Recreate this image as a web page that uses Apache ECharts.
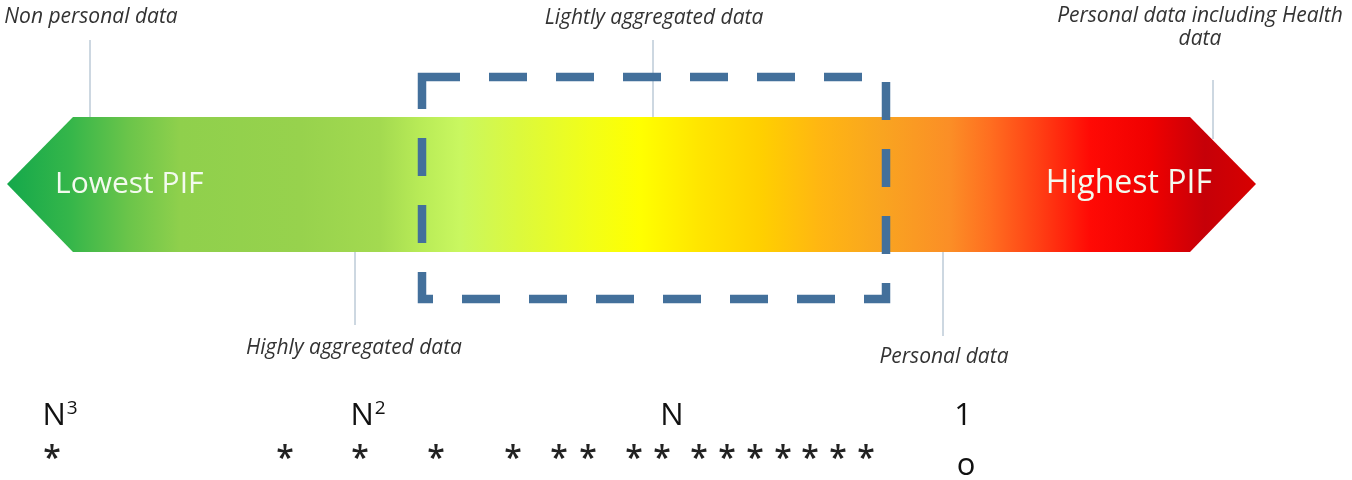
<!DOCTYPE html>
<html>
<head>
<meta charset="utf-8">
<script src="https://cdn.jsdelivr.net/npm/echarts@6/dist/echarts.min.js"></script>
<style>
html,body{margin:0;padding:0;background:#fff;}
#chart{width:1352px;height:480px;}
</style>
</head>
<body>
<div id="chart"></div>
<script>
// ---- data ----
const scaleLabels = ['Non personal data', 'Highly aggregated data', 'Lightly aggregated data', 'Personal data', 'Personal data including Health\ndata'];
const scaleTickX = [90, 355, 653, 943, 1213];
const scaleLabelX = [91, 354, 654, 944, 1200];
const scaleSide = ['top', 'bottom', 'top', 'bottom', 'top'];
const arrowLabels = ['Lowest PIF', 'Highest PIF'];
const focusRange = [422, 886];
const magnitudeLabels = ['N³', 'N²', 'N', '1'];
const magnitudeX = [60, 368, 672, 963];
const asteriskX = [52, 285, 360, 436, 513, 559, 588, 634, 662, 699, 727, 755, 783, 810, 838, 866];
const singleMarkX = [966];

// ---- layout (styles / geometry, not data) ----
const L = {
  tipL: 7, bodyL: 73, bodyR: 1190, tipR: 1256,
  top: 117, bottom: 252, mid: 184,
  boxTop: 77, boxBottom: 299,
  botLineY1: [0, 325, 0, 336, 0],
  topLineY0s: [40, 0, 40, 0, 80],
  topLineY1s: [117, 0, 117, 0, 139],
  labelY: [17, 348, 18, 357, 28],
  magY: 416, astY: 444, oY: 466
};

const chart = echarts.init(document.getElementById('chart'), null, {renderer: 'canvas'});

const gradStops = [
  [7, '#14a84b'], [70, '#35b64a'], [130, '#6cc54a'], [180, '#8fd04c'], [300, '#97d24d'],
  [380, '#a3da50'], [420, '#b8eb57'], [460, '#c9f760'], [520, '#dcf93c'], [590, '#f2fe18'],
  [640, '#ffff00'], [700, '#ffe500'], [760, '#ffd000'], [820, '#ffb612'], [880, '#f9a520'],
  [950, '#fb8e26'], [990, '#ff6e20'], [1040, '#ff3e14'], [1090, '#ff0a05'], [1150, '#f00000'],
  [1205, '#c60008'], [1256, '#d80000']
].map(s => ({offset: (s[0] - 7) / (1256 - 7), color: s[1]}));

const labelFont = '"Open Sans", sans-serif';
const supMap = {'³': '3', '²': '2'};
const toRich = t => t.replace(/[³²]/g, ch => '{s|' + supMap[ch] + '}').replace(/^([^{]+)/, '{n|$1}');

const option = {
  animation: false,
  grid: {left: 0, right: 0, top: 0, bottom: 0},
  xAxis: {type: 'value', min: 0, max: 1352, show: false},
  yAxis: {type: 'value', min: 0, max: 480, inverse: true, show: false},
  series: [
    // arrow band
    {
      type: 'custom', data: [0], z: 1,
      renderItem: (params, api) => {
        const c = (x, y) => api.coord([x, y]);
        return {
          type: 'polygon',
          shape: {points: [c(L.tipL, L.mid), c(L.bodyL, L.top), c(L.bodyR, L.top), c(L.tipR, L.mid), c(L.bodyR, L.bottom), c(L.bodyL, L.bottom)]},
          style: {fill: new echarts.graphic.LinearGradient(0, 0, 1, 0, gradStops)}
        };
      }
    },
    // arrow end labels
    {
      type: 'custom', data: arrowLabels.map((t, i) => [i]), z: 3,
      renderItem: (params, api) => {
        const i = params.dataIndex;
        const p = api.coord([i === 0 ? 55 : 1212, L.mid]);
        return {
          type: 'text', x: p[0], y: p[1],
          style: {text: arrowLabels[i], fill: '#f3faee', font: (i === 0 ? '30px ' : '32px ') + labelFont,
            textAlign: i === 0 ? 'left' : 'right', textVerticalAlign: 'middle'}
        };
      }
    },
    // scale leader lines + labels
    {
      type: 'custom', data: scaleTickX.map((x, i) => [x, i]), z: 2,
      renderItem: (params, api) => {
        const i = params.dataIndex;
        const x = api.value(0);
        let y0, y1;
        if (scaleSide[i] === 'top') { y0 = L.topLineY0s[i]; y1 = L.topLineY1s[i]; }
        else { y0 = L.bottom; y1 = L.botLineY1[i]; }
        const a = api.coord([x, y0]), b = api.coord([x, y1]);
        const lp = api.coord([scaleLabelX[i], L.labelY[i]]);
        return {
          type: 'group', children: [
            {type: 'line', shape: {x1: a[0], y1: a[1], x2: b[0], y2: b[1]}, style: {stroke: '#9bb0c3', lineWidth: 1}},
            {type: 'text', x: lp[0], y: lp[1], style: {text: scaleLabels[i], fill: '#333333',
              font: 'italic 21px ' + labelFont, textAlign: 'center', textVerticalAlign: 'middle', lineHeight: 23}}
          ]
        };
      }
    },
    // dashed focus box
    {
      type: 'custom', data: [focusRange], z: 4,
      renderItem: (params, api) => {
        const a = api.coord([focusRange[0], L.boxTop]);
        const b = api.coord([focusRange[1], L.boxBottom]);
        return {
          type: 'rect',
          shape: {x: a[0], y: a[1], width: b[0] - a[0], height: b[1] - a[1]},
          style: {fill: null, stroke: '#43709b', lineWidth: 8.5, lineDash: [38, 29], lineCap: 'butt'}
        };
      }
    },
    // magnitude labels
    {
      type: 'custom', data: magnitudeX.map((x, i) => [x, i]), z: 2,
      renderItem: (params, api) => {
        const p = api.coord([api.value(0), L.magY]);
        return {type: 'text', x: p[0], y: p[1], style: {text: toRich(magnitudeLabels[params.dataIndex]),
          textAlign: 'center', textVerticalAlign: 'middle',
          rich: {
            n: {fontSize: 31, fontFamily: 'Open Sans', fill: '#111', lineHeight: 34, verticalAlign: 'middle'},
            s: {fontSize: 19, fontFamily: 'Open Sans', fill: '#111', lineHeight: 34, verticalAlign: 'top', padding: [0, 0, 0, 1]}
          }}};
      }
    },
    // asterisks
    {
      type: 'custom', data: asteriskX.map(x => [x]), z: 2,
      renderItem: (params, api) => {
        const p = api.coord([api.value(0), L.astY]);
        return {type: 'text', x: p[0], y: p[1], style: {text: '*', fill: '#222',
          font: '600 32px ' + labelFont, textAlign: 'center', textVerticalAlign: 'top'}};
      }
    },
    // single mark
    {
      type: 'custom', data: singleMarkX.map(x => [x]), z: 2,
      renderItem: (params, api) => {
        const p = api.coord([api.value(0), L.oY]);
        return {type: 'text', x: p[0], y: p[1], style: {text: 'o', fill: '#111',
          font: '31px ' + labelFont, textAlign: 'center', textVerticalAlign: 'middle'}};
      }
    }
  ]
};
chart.setOption(option);
</script>
</body>
</html>
